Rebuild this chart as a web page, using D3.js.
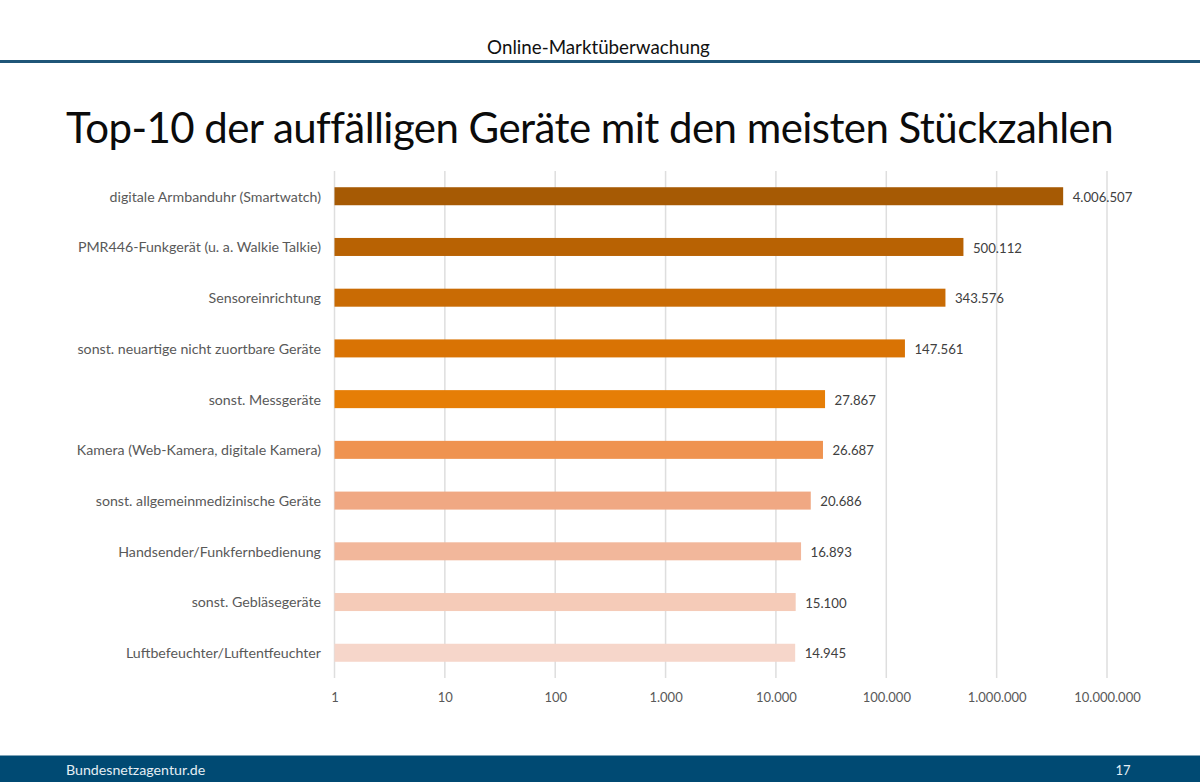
<!DOCTYPE html>
<html>
<head>
<meta charset="utf-8">
<script src="https://cdn.jsdelivr.net/npm/d3@7"></script>
<style>
html, body { margin: 0; padding: 0; background: #fff; }
text { font-family: Lato, sans-serif; }
</style>
</head>
<body>
<div id="chart"></div>
<script>
const categories = [
    "digitale Armbanduhr (Smartwatch)",
    "PMR446-Funkgerät (u. a. Walkie Talkie)",
    "Sensoreinrichtung",
    "sonst. neuartige nicht zuortbare Geräte",
    "sonst. Messgeräte",
    "Kamera (Web-Kamera, digitale Kamera)",
    "sonst. allgemeinmedizinische Geräte",
    "Handsender/Funkfernbedienung",
    "sonst. Gebläsegeräte",
    "Luftbefeuchter/Luftentfeuchter"
];
const values = [4006507, 500112, 343576, 147561, 27867, 26687, 20686, 16893, 15100, 14945];
const ticks = [1, 10, 100, 1000, 10000, 100000, 1000000, 10000000];
const tickLabels = ["1", "10", "100", "1.000", "10.000", "100.000", "1.000.000", "10.000.000"];
const barColors = ["#a65a04", "#b86203", "#c96b04", "#d97304", "#e67e06", "#ef9350", "#f0a883", "#f2b79b", "#f5cbb8", "#f6d6ca"];

const W = 1200, H = 782;
const margin = { top: 171, right: 93, bottom: 104, left: 334.5 };
const width = W - margin.left - margin.right,
    height = H - margin.top - margin.bottom;
const fmt = d3.formatLocale({ decimal: ",", thousands: ".", grouping: [3], currency: ["", ""] }).format(",d");

const root = d3.select("#chart").append("svg")
    .attr("width", W)
    .attr("height", H)
    .style("display", "block");

// header and footer of the slide
root.append("text").attr("x", 598.5).attr("y", 54)
    .attr("text-anchor", "middle").attr("font-size", 18.75).attr("fill", "#111")
    .text("Online-Marktüberwachung");
root.append("rect").attr("x", 0).attr("y", 60).attr("width", W).attr("height", 3).attr("fill", "#1f5678");
root.append("text").attr("x", 66).attr("y", 143)
    .attr("font-size", 42).attr("letter-spacing", -0.55).attr("fill", "#0b0b0b")
    .text("Top-10 der auffälligen Geräte mit den meisten Stückzahlen");
root.append("rect").attr("x", 0).attr("y", 755.5).attr("width", W).attr("height", H - 755.5).attr("fill", "#004a73");
root.append("text").attr("x", 66).attr("y", 775)
    .attr("font-size", 14.2).attr("fill", "#e4eef4")
    .text("Bundesnetzagentur.de");
root.append("text").attr("x", 1123).attr("y", 775)
    .attr("text-anchor", "middle").attr("font-size", 13).attr("fill", "#e4eef4")
    .text("17");

const svg = root.append("g")
    .attr("transform", `translate(${margin.left},${margin.top})`);

const x = d3.scaleLog()
    .domain([1, 10000000])
    .range([0, width]);
const y = d3.scaleBand()
    .domain(categories)
    .range([0, height])
    .paddingInner(0.645)
    .paddingOuter(0.32);
const color = d3.scaleOrdinal().domain(categories).range(barColors);

// gridlines
svg.append("g")
    .selectAll("line")
    .data(ticks)
    .join("line")
    .attr("x1", d => x(d))
    .attr("x2", d => x(d))
    .attr("y1", 0)
    .attr("y2", height)
    .attr("stroke", "#dedede")
    .attr("stroke-width", 1.5);

// bottom axis
const xAxis = svg.append("g")
    .attr("transform", `translate(0,${height})`)
    .call(d3.axisBottom(x)
        .tickValues(ticks)
        .tickFormat((d, i) => tickLabels[i])
        .tickSize(0)
        .tickPadding(14.5));
xAxis.select(".domain").remove();
xAxis.selectAll("text")
    .attr("font-size", 13)
    .attr("fill", "#595959")
    .style("font-family", "Lato, sans-serif");

// left axis
const yAxis = svg.append("g")
    .call(d3.axisLeft(y).tickSize(0).tickPadding(13.5));
yAxis.select(".domain").remove();
yAxis.selectAll("text")
    .attr("font-size", 14.2)
    .attr("fill", "#595959")
    .attr("dy", "0.38em")
    .style("font-family", "Lato, sans-serif");

const rows = categories.map((c, i) => ({ name: c, value: values[i] }));

svg.selectAll("rect.bar")
    .data(rows)
    .join("rect")
    .attr("class", "bar")
    .attr("x", 0)
    .attr("y", d => y(d.name))
    .attr("width", d => x(d.value))
    .attr("height", y.bandwidth())
    .attr("fill", d => color(d.name));

svg.selectAll("text.val")
    .data(rows)
    .join("text")
    .attr("class", "val")
    .attr("x", d => x(d.value) + 9.5)
    .attr("y", d => y(d.name) + y.bandwidth() / 2)
    .attr("dy", "0.42em")
    .attr("font-size", 13.2)
    .attr("fill", "#404040")
    .text(d => fmt(d.value));
</script>
</body>
</html>
